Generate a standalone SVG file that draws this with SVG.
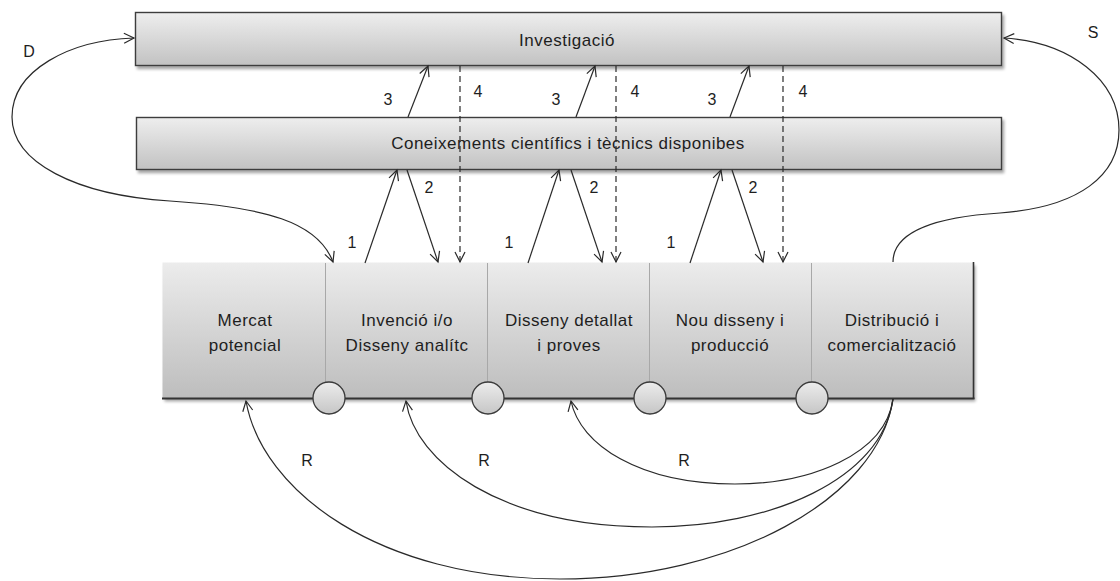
<svg xmlns="http://www.w3.org/2000/svg" width="1120" height="581" viewBox="0 0 1120 581">
  <style>
    text { font-family: "Liberation Sans", Arial, sans-serif; fill: #1e1e1e; }
    .box { fill: url(#barFill); stroke: #3c3c3c; stroke-width: 1.4; }
    .title { font-size: 17px; text-anchor: middle; letter-spacing: 0.5px; }
    .stage { font-size: 17px; text-anchor: middle; letter-spacing: 0.5px; }
    .lbl { font-size: 16px; text-anchor: middle; }
    .link { fill: none; stroke: #2a2a2a; stroke-width: 1.2; marker-end: url(#open); }
    .both { marker-start: url(#open); }
    .dash { stroke-dasharray: 6 4; }
    .divider { stroke: #a8a8a8; stroke-width: 1; }
    .node { fill: url(#dotFill); stroke: #3a3a3a; stroke-width: 1.3; }
  </style>
  <defs>
    <linearGradient id="barFill" x1="0" y1="0" x2="0" y2="1">
      <stop offset="0" stop-color="#eeeeee"/>
      <stop offset="1" stop-color="#c2c2c2"/>
    </linearGradient>
    <linearGradient id="stageFill" x1="0" y1="0" x2="0" y2="1">
      <stop offset="0" stop-color="#ececec"/>
      <stop offset="1" stop-color="#bdbdbd"/>
    </linearGradient>
    <linearGradient id="dotFill" x1="0" y1="0" x2="0" y2="1">
      <stop offset="0" stop-color="#ececec"/>
      <stop offset="1" stop-color="#c6c6c6"/>
    </linearGradient>
    <filter id="shadow" x="-5%" y="-20%" width="110%" height="150%">
      <feGaussianBlur in="SourceAlpha" stdDeviation="1.6"/>
      <feOffset dx="1.5" dy="2.5" result="b"/>
      <feComponentTransfer><feFuncA type="linear" slope="0.35"/></feComponentTransfer>
      <feMerge><feMergeNode/><feMergeNode in="SourceGraphic"/></feMerge>
    </filter>
    <marker id="open" markerUnits="userSpaceOnUse" markerWidth="14" markerHeight="14" refX="11" refY="6" orient="auto-start-reverse">
      <path d="M1,1 L11,6 L1,11" fill="none" stroke="#2a2a2a" stroke-width="1.2"/>
    </marker>
  </defs>

  <!-- upper bars -->
  <g id="investigacio">
    <rect class="box" x="135.5" y="12.5" width="866" height="53" filter="url(#shadow)"/>
    <text class="title" x="567" y="46">Investigació</text>
  </g>
  <g id="coneixements">
    <rect class="box" x="136.5" y="117.5" width="865" height="52" filter="url(#shadow)"/>
    <text class="title" x="568" y="149">Coneixements científics i tècnics disponibes</text>
  </g>

  <!-- process strip -->
  <g id="process">
    <rect x="162.5" y="262.5" width="811" height="136" fill="url(#stageFill)" filter="url(#shadow)"/>
    <line x1="162" y1="398.5" x2="974.5" y2="398.5" stroke="#333" stroke-width="2"/>
    <line x1="973.5" y1="262" x2="973.5" y2="399" stroke="#333" stroke-width="1.6"/>
    <line class="divider" x1="325.5" y1="263" x2="325.5" y2="398"/>
    <line class="divider" x1="487.5" y1="263" x2="487.5" y2="398"/>
    <line class="divider" x1="649.5" y1="263" x2="649.5" y2="398"/>
    <line class="divider" x1="811.5" y1="263" x2="811.5" y2="398"/>
  </g>
  <g id="mercat">
    <text class="stage" x="245" y="326">Mercat</text>
    <text class="stage" x="245" y="351">potencial</text>
  </g>
  <g id="invencio">
    <text class="stage" x="407" y="326">Invenció i/o</text>
    <text class="stage" x="407" y="351">Disseny analítc</text>
  </g>
  <g id="disseny-detallat">
    <text class="stage" x="569" y="326">Disseny detallat</text>
    <text class="stage" x="569" y="351">i proves</text>
  </g>
  <g id="nou-disseny">
    <text class="stage" x="730" y="326">Nou disseny i</text>
    <text class="stage" x="730" y="351">producció</text>
  </g>
  <g id="distribucio">
    <text class="stage" x="892" y="326">Distribució i</text>
    <text class="stage" x="892" y="351">comercialització</text>
  </g>
  <g id="joints">
    <circle class="node" cx="329" cy="398" r="16"/>
    <circle class="node" cx="488" cy="398" r="16"/>
    <circle class="node" cx="650" cy="398" r="16"/>
    <circle class="node" cx="812" cy="398" r="16"/>
  </g>

  <!-- connectors -->
  <g id="connectors">
    <!-- group 1 -->
    <line class="link" x1="365" y1="263" x2="397" y2="170"/>
    <line class="link" x1="407" y1="170" x2="438" y2="262"/>
    <line class="link" x1="408" y1="117" x2="428" y2="66"/>
    <line class="link dash" x1="460" y1="66" x2="460" y2="262"/>
    <!-- group 2 -->
    <line class="link" x1="528" y1="263" x2="559" y2="170"/>
    <line class="link" x1="571" y1="170" x2="602" y2="262"/>
    <line class="link" x1="576" y1="117" x2="595" y2="66"/>
    <line class="link dash" x1="616" y1="66" x2="616" y2="262"/>
    <!-- group 3 -->
    <line class="link" x1="690" y1="263" x2="721" y2="170"/>
    <line class="link" x1="732" y1="170" x2="763" y2="262"/>
    <line class="link" x1="730" y1="117" x2="749" y2="66"/>
    <line class="link dash" x1="783" y1="66" x2="783" y2="262"/>
    <!-- D loop, arrow at both ends -->
    <path class="link both" d="M333,262 C318,222 265,207 170,201 C75,195 12,162 12,117 C12,70 70,40 134,38"/>
    <!-- S loop -->
    <path class="link" d="M893,262 C893,232 935,217 1000,213 C1080,207 1119,175 1119,130 C1119,80 1070,42 1004,38"/>
    <!-- R returns -->
    <path class="link" d="M893,399 C885,455 810,484 735,484 C640,484 580,445 571,401"/>
    <path class="link" d="M893,399 C882,480 770,527 652,527 C500,527 415,462 406,401"/>
    <path class="link" d="M893,399 C878,500 730,579 560,579 C380,579 262,492 246,401"/>
  </g>

  <!-- connector labels -->
  <g id="labels">
    <text class="lbl" x="352" y="248">1</text>
    <text class="lbl" x="429" y="193">2</text>
    <text class="lbl" x="388" y="105">3</text>
    <text class="lbl" x="478" y="97">4</text>
    <text class="lbl" x="509" y="248">1</text>
    <text class="lbl" x="594" y="193">2</text>
    <text class="lbl" x="556" y="105">3</text>
    <text class="lbl" x="635" y="97">4</text>
    <text class="lbl" x="671" y="248">1</text>
    <text class="lbl" x="753" y="193">2</text>
    <text class="lbl" x="712" y="105">3</text>
    <text class="lbl" x="803" y="97">4</text>
    <text class="lbl" x="29" y="57">D</text>
    <text class="lbl" x="1093" y="38">S</text>
    <text class="lbl" x="307" y="466">R</text>
    <text class="lbl" x="484" y="466">R</text>
    <text class="lbl" x="684" y="466">R</text>
  </g>
</svg>
